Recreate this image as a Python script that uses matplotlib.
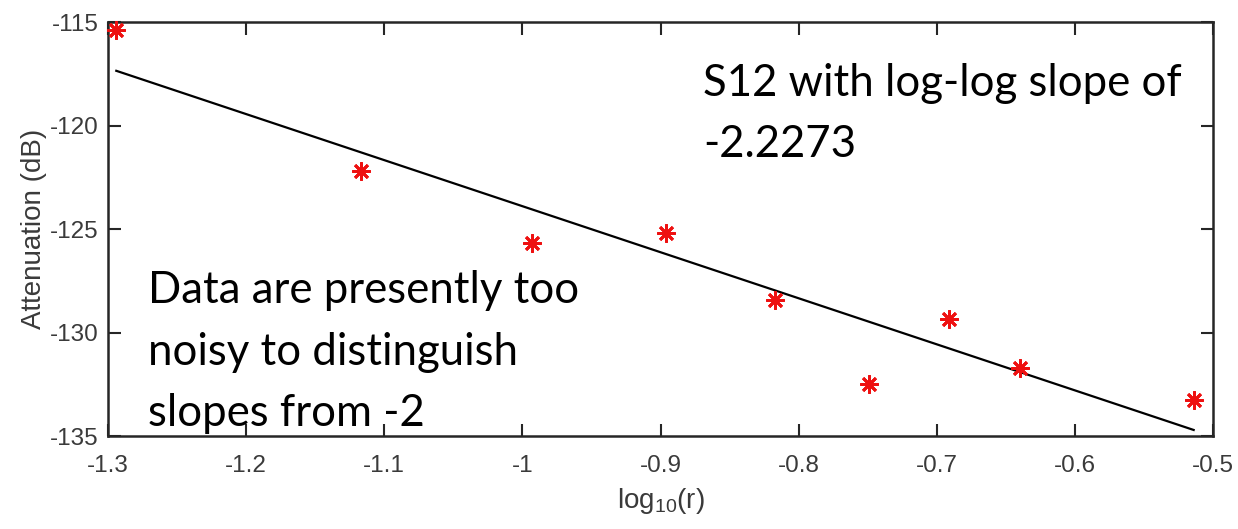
import numpy as np
import matplotlib.pyplot as plt

plt.rcParams['axes.unicode_minus'] = False
plt.rcParams['mathtext.fontset'] = 'custom'
plt.rcParams['mathtext.rm'] = 'Liberation Sans'
plt.rcParams['mathtext.it'] = 'Liberation Sans'

# log10 of the separation r, and measured S12 attenuation
log_r = [-1.294, -1.117, -0.993, -0.896, -0.817, -0.749, -0.691, -0.640, -0.514]
atten = [-115.4, -122.2, -125.7, -125.2, -128.45, -132.5, -129.35, -131.7, -133.25]

x_ticks = [-1.3, -1.2, -1.1, -1.0, -0.9, -0.8, -0.7, -0.6, -0.5]
x_labels = ['-1.3', '-1.2', '-1.1', '-1', '-0.9', '-0.8', '-0.7', '-0.6', '-0.5']
y_ticks = [-135, -130, -125, -120, -115]
y_labels = ['-135', '-130', '-125', '-120', '-115']

note_fit = 'S12 with log-log slope of\n-2.2273'
note_noise = 'Data are presently too\nnoisy to distinguish\nslopes from -2'

# least squares line through the points
p = np.polyfit(log_r, atten, 1)
fit = np.polyval(p, log_r)

fig = plt.figure(figsize=(12.38, 5.29), dpi=100)
ax = fig.add_axes([108/1238, 1-436/529, (1213-108)/1238, (436-22)/529])

ax.plot(log_r, fit, color='black', linewidth=1.6, zorder=2)
ax.plot(log_r, atten, linestyle='none', marker=(8, 2, 0), markersize=13,
        markeredgewidth=2.0, color='#ee1111', clip_on=False, zorder=3)

ax.set_xlim(-1.3, -0.5)
ax.set_ylim(-135, -115)
ax.set_xticks(x_ticks)
ax.set_xticklabels(x_labels)
ax.set_yticks(y_ticks)
ax.set_yticklabels(y_labels)

tick_col = '#3a3a3a'
ax.tick_params(direction='in', length=9, width=1.5, top=True, right=True,
               labelsize=17.5, labelcolor=tick_col, color='#262626')
ax.tick_params(axis='x', pad=14)
ax.tick_params(axis='y', pad=7)
for s in ax.spines.values():
    s.set_linewidth(1.8)
    s.set_color('#262626')

for lab in ax.get_xticklabels() + ax.get_yticklabels():
    lab.set_fontfamily('Liberation Sans')

ax.set_ylabel('Attenuation (dB)', fontsize=20, color=tick_col,
              fontfamily='Liberation Sans', labelpad=2)
ax.set_xlabel('log$_{10}$(r)', fontsize=20, color=tick_col,
              fontfamily='Liberation Sans', labelpad=6)

# va='baseline' puts the last line on the given y
ax.text((703-108)/1105, (436-157)/414, note_fit, transform=ax.transAxes,
        fontsize=31.5, fontfamily='Lato', va='baseline', ha='left',
        linespacing=1.62)
ax.text((148-108)/1105, (436-426)/414, note_noise, transform=ax.transAxes,
        fontsize=31.5, fontfamily='Lato', va='baseline', ha='left',
        linespacing=1.62)

fig.savefig('out.png', dpi=100, facecolor='white')
